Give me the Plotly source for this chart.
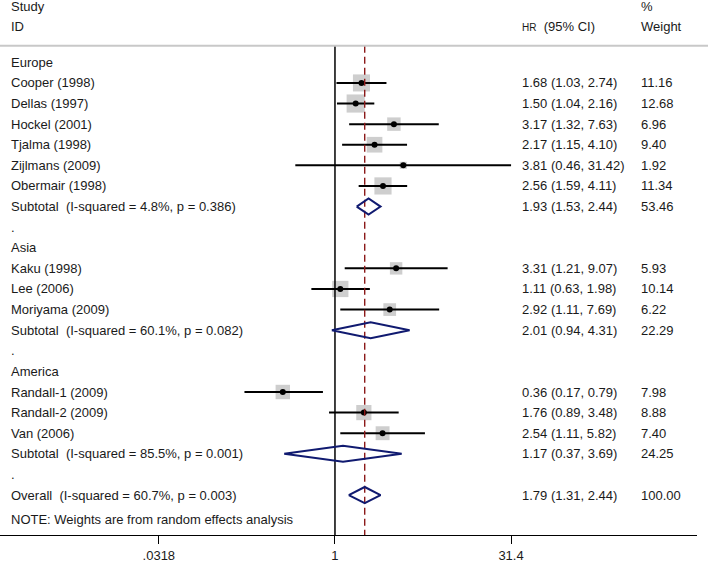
import math
import plotly.graph_objects as go

# ---------------- data ----------------
row_labels = ["Europe", "Cooper (1998)", "Dellas (1997)", "Hockel (2001)", "Tjalma (1998)",
              "Zijlmans (2009)", "Obermair (1998)",
              "Subtotal  (I-squared = 4.8%, p = 0.386)", ".",
              "Asia", "Kaku (1998)", "Lee (2006)", "Moriyama (2009)",
              "Subtotal  (I-squared = 60.1%, p = 0.082)", ".",
              "America", "Randall-1 (2009)", "Randall-2 (2009)", "Van (2006)",
              "Subtotal  (I-squared = 85.5%, p = 0.001)", ".",
              "Overall  (I-squared = 60.7%, p = 0.003)"]

study_names = ["Cooper (1998)", "Dellas (1997)", "Hockel (2001)", "Tjalma (1998)",
               "Zijlmans (2009)", "Obermair (1998)", "Kaku (1998)", "Lee (2006)",
               "Moriyama (2009)", "Randall-1 (2009)", "Randall-2 (2009)", "Van (2006)"]
study_hr = [1.68, 1.50, 3.17, 2.17, 3.81, 2.56, 3.31, 1.11, 2.92, 0.36, 1.76, 2.54]
study_lo = [1.03, 1.04, 1.32, 1.15, 0.46, 1.59, 1.21, 0.63, 1.11, 0.17, 0.89, 1.11]
study_hi = [2.74, 2.16, 7.63, 4.10, 31.42, 4.11, 9.07, 1.98, 7.69, 0.79, 3.48, 5.82]
study_wt = [11.16, 12.68, 6.96, 9.40, 1.92, 11.34, 5.93, 10.14, 6.22, 7.98, 8.88, 7.40]

pool_names = ["Subtotal  (I-squared = 4.8%, p = 0.386)",
              "Subtotal  (I-squared = 60.1%, p = 0.082)",
              "Subtotal  (I-squared = 85.5%, p = 0.001)",
              "Overall  (I-squared = 60.7%, p = 0.003)"]
pool_hr = [1.93, 2.01, 1.17, 1.79]
pool_lo = [1.53, 0.94, 0.37, 1.31]
pool_hi = [2.44, 4.31, 3.69, 2.44]
pool_wt = [53.46, 22.29, 24.25, 100.00]

tick_vals = [0.0318, 1, 31.4]
tick_text = [".0318", "1", "31.4"]

# ---------------- layout constants ----------------
W, H = 708, 562
FONT = "Liberation Sans, Arial, sans-serif"
FS = 13
TXT = "#1a1a1a"
NAVY = "#101a70"
DRED = "#8b1a1a"
GRAY = "#b9b9b9"

row_of = {}
for i, lab in enumerate(row_labels):
    if lab != "." and lab not in row_of:
        row_of[lab] = i

y_top, y_bot = -3.024, 22.94
x_lo, x_hi = -2.848, 3.078

fig = go.Figure()

def nb(s):
    return s.replace("  ", "\u00a0\u00a0")

# study squares
s_rows = [row_of[n] for n in study_names]
fig.add_trace(go.Scatter(
    x=study_hr, y=s_rows, mode="markers",
    marker=dict(symbol="square", size=[5.1 * math.sqrt(w) for w in study_wt],
                color=GRAY, line=dict(width=0)),
    hoverinfo="skip", showlegend=False))

# CI lines
cx, cy = [], []
for lo, hi, r in zip(study_lo, study_hi, s_rows):
    cx += [lo, hi, None]
    cy += [r, r, None]
fig.add_trace(go.Scatter(x=cx, y=cy, mode="lines", line=dict(color="black", width=2),
                         hoverinfo="skip", showlegend=False))

# point estimates
fig.add_trace(go.Scatter(x=study_hr, y=s_rows, mode="markers",
                         marker=dict(symbol="circle", size=6, color="black"),
                         hoverinfo="skip", showlegend=False))

# null line
fig.add_trace(go.Scatter(x=[1, 1], y=[-0.806, y_bot], mode="lines",
                         line=dict(color="black", width=1.5),
                         hoverinfo="skip", showlegend=False))

# overall dashed line
fig.add_trace(go.Scatter(x=[pool_hr[-1], pool_hr[-1]], y=[-0.806, y_bot], mode="lines",
                         line=dict(color=DRED, width=1.4, dash="7px,4px"),
                         hoverinfo="skip", showlegend=False))

# pooled diamonds
dh = 0.39
for n, e, lo, hi in zip(pool_names, pool_hr, pool_lo, pool_hi):
    r = row_of[n]
    fig.add_trace(go.Scatter(x=[lo, e, hi, e, lo], y=[r, r - dh, r, r + dh, r],
                             mode="lines", line=dict(color=NAVY, width=2),
                             hoverinfo="skip", showlegend=False))

# ---------------- text ----------------
ann = []
def px(x):
    return x / W

def add_text(x, y, text, size=FS):
    ann.append(dict(x=px(x), y=y, xref="paper", yref="y", text=text, showarrow=False,
                    xanchor="left", yanchor="middle",
                    font=dict(family=FONT, size=size, color=TXT)))

add_text(9, -2.73, "Study")
add_text(9, -1.75, "ID")
add_text(520, -1.75, "<span style='font-size:10px'>HR</span>\u00a0\u00a0(95% CI)")
add_text(639, -2.73, "%")
add_text(639, -1.75, "Weight")

for i, lab in enumerate(row_labels):
    add_text(9, i, nb(lab))

for n, e, lo, hi, w in zip(study_names, study_hr, study_lo, study_hi, study_wt):
    r = row_of[n]
    add_text(520, r, f"{e:.2f} ({lo:.2f}, {hi:.2f})")
    add_text(639, r, f"{w:.2f}")
for n, e, lo, hi, w in zip(pool_names, pool_hr, pool_lo, pool_hi, pool_wt):
    r = row_of[n]
    add_text(520, r, f"{e:.2f} ({lo:.2f}, {hi:.2f})")
    add_text(639, r, f"{w:.2f}")

add_text(9, 22.2, "NOTE: Weights are from random effects analysis")

fig.update_layout(
    width=W, height=H,
    margin=dict(l=0, r=0, t=0, b=0),
    paper_bgcolor="white", plot_bgcolor="white",
    annotations=ann,
    shapes=[dict(type="line", xref="paper", yref="y", x0=0, x1=1, y0=-0.806, y1=-0.806,
                 line=dict(color="#c8c8c8", width=2))],
    xaxis=dict(type="log", range=[x_lo, x_hi], domain=[0, 697 / W],
               tickvals=tick_vals, ticktext=tick_text, ticks="outside", ticklen=8,
               tickwidth=1.2, tickcolor="black", showline=True, linecolor="black",
               linewidth=1.2, showgrid=False, zeroline=False,
               tickfont=dict(family=FONT, size=FS, color=TXT)),
    yaxis=dict(range=[y_bot, y_top], domain=[(H - 535) / H, 1], visible=False,
               showgrid=False, zeroline=False),
)

fig.write_html("out.html", config={"displayModeBar": False},
               post_script="document.body.style.margin='0px';"
                           "document.body.style.overflow='hidden';")
